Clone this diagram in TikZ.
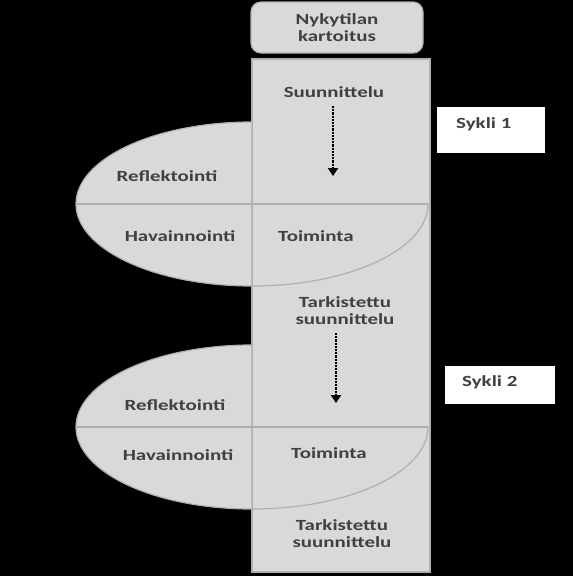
\documentclass[tikz,border=0pt]{standalone}
\usepackage{fontspec}
\setmainfont[FakeStretch=1.35]{Carlito}
\usetikzlibrary{arrows.meta}
\definecolor{boxfill}{RGB}{217,217,217}
\definecolor{boxline}{RGB}{175,175,175}
\definecolor{txt}{RGB}{64,64,64}
\tikzset{
  lbl/.style={font=\bfseries\fontsize{15.5}{18}\selectfont, text=txt, align=center, inner sep=0pt},
  shape fill/.style={fill=boxfill, draw=boxline, line width=1.2pt},
  edge line/.style={draw=boxline, line width=1.2pt},
  flowarrow/.style={densely dotted, line width=2.2pt, black, -{Triangle[width=10pt,length=8pt]}},
  syklibox/.style={fill=white, draw=none}
}
\begin{document}
\begin{tikzpicture}[x=1pt,y=-1pt]
\fill[black] (0,0) rectangle (573,576);
\useasboundingbox (0,0) rectangle (573,576);
% top box
\draw[shape fill, rounded corners=10pt] (251,2) rectangle (423,53);
\node[lbl] (nyk) at (337,28) {Nykytilan\\[-1pt]kartoitus};
% column
\draw[shape fill] (252,59) rectangle (430,572);
% ellipse 1 (center 252,204)
\draw[shape fill] (252,122) arc[start angle=270, end angle=90, x radius=176, y radius=82] -- cycle;
\draw[edge line] (428,204) arc[start angle=0, end angle=90, x radius=176, y radius=82];
\draw[edge line] (76,204) -- (428,204);
% ellipse 2 (center 252,427)
\draw[shape fill] (252,345) arc[start angle=270, end angle=90, x radius=176, y radius=82] -- cycle;
\draw[edge line] (428,427) arc[start angle=0, end angle=90, x radius=176, y radius=82];
\draw[edge line] (76,427) -- (428,427);
% labels
\node[lbl] (suun) at (334,92) {Suunnittelu};
\node[lbl] (ref1) at (167,176) {Reflektointi};
\node[lbl] (hav1) at (180,236) {Havainnointi};
\node[lbl] (toi1) at (316,236) {Toiminta};
\node[lbl] (tark1) at (345,311) {Tarkistettu\\[-1pt]suunnittelu};
\node[lbl] (ref2) at (175,405) {Reflektointi};
\node[lbl] (hav2) at (178,455) {Havainnointi};
\node[lbl] (toi2) at (329,453) {Toiminta};
\node[lbl] (tark2) at (342,534) {Tarkistettu\\[-1pt]suunnittelu};
% arrows
\coordinate (a1s) at (333,106);
\coordinate (a1e) at (333,176);
\coordinate (a2s) at (336,333);
\coordinate (a2e) at (336,403);
\draw[flowarrow] (a1s) -- (a1e);
\draw[flowarrow] (a2s) -- (a2e);
% sykli boxes
\fill[syklibox] (437,107) rectangle (545,153);
\node[lbl, anchor=west] (s1) at (456,124) {Sykli 1};
\fill[syklibox] (445,366) rectangle (555,404);
\node[lbl, anchor=west] (s2) at (462,382) {Sykli 2};
\end{tikzpicture}
\end{document}
